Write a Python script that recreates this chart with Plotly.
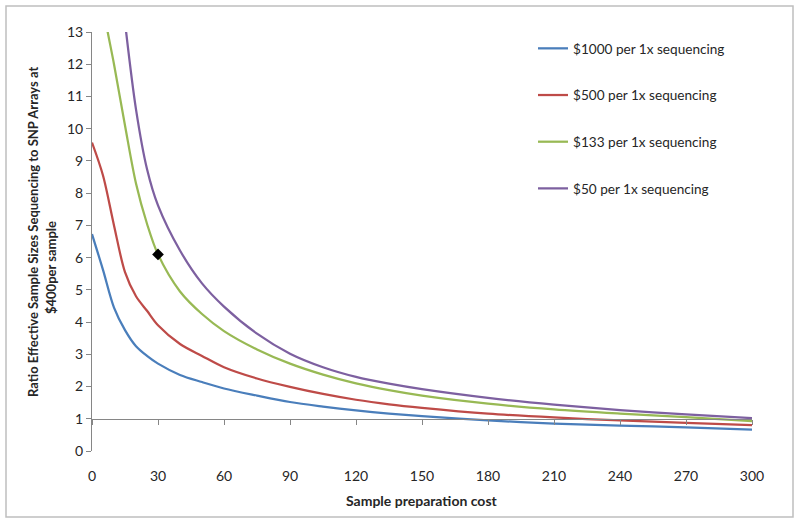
import plotly.graph_objects as go

# ---- data ----
x_cost = [0, 5, 10, 15, 20, 25, 30, 40, 50, 60, 75, 90, 105, 120, 135, 150, 180, 210, 240, 270, 300]

seq_1000 = [6.73, 5.62, 4.45, 3.75, 3.25, 2.95, 2.71, 2.36, 2.14, 1.94, 1.72, 1.52, 1.38, 1.26, 1.16, 1.08, 0.95, 0.85, 0.79, 0.73, 0.66]
seq_500 = [9.57, 8.55, 7.0, 5.55, 4.8, 4.35, 3.9, 3.32, 2.95, 2.6, 2.25, 1.99, 1.77, 1.59, 1.45, 1.34, 1.16, 1.04, 0.95, 0.87, 0.80]
seq_133 = [16.5, 13.8, 12.0, 10.1, 8.3, 7.05, 6.1, 4.95, 4.25, 3.72, 3.15, 2.71, 2.37, 2.10, 1.89, 1.72, 1.47, 1.29, 1.16, 1.05, 0.93]
seq_50 = [24.0, 20.0, 16.5, 13.3, 10.6, 8.75, 7.62, 6.22, 5.2, 4.48, 3.64, 3.02, 2.6, 2.30, 2.09, 1.92, 1.65, 1.44, 1.27, 1.14, 1.02]

series_names = ["$1000 per 1x sequencing", "$500 per 1x sequencing",
                "$133 per 1x sequencing", "$50 per 1x sequencing"]
series_values = [seq_1000, seq_500, seq_133, seq_50]
series_colors = ["#4A7EBB", "#BE4B48", "#98B954", "#7D60A0"]

marker_x = [30]
marker_y = [6.1]

x_ticks = [0, 30, 60, 90, 120, 150, 180, 210, 240, 270, 300]
y_ticks = list(range(0, 14))

FONT = "Lato, 'Open Sans', Arial, sans-serif"
TXT = "#262626"
AXC = "#868686"

fig = go.Figure()
for name, vals, col in zip(series_names, series_values, series_colors):
    fig.add_trace(go.Scatter(
        x=x_cost, y=vals, mode="lines", name=name, legendgroup=name,
        line=dict(color=col, width=2.25, shape="spline", smoothing=0.9),
        cliponaxis=True, hoverinfo="skip"))

fig.add_trace(go.Scatter(
    x=marker_x, y=marker_y, mode="markers", showlegend=False,
    xaxis="x2",
    marker=dict(symbol="diamond", size=9, color="black"), hoverinfo="skip"))

W, H = 800, 524
ml, mr, mt, mb = 92, 48, 32, 73
pw, ph = W - ml - mr, H - mt - mb

def px_to_paper_x(sx):
    return (sx - ml) / pw

def px_to_paper_y(sy):
    return (H - mb - sy) / ph

fig.update_layout(
    width=W, height=H,
    margin=dict(l=ml, r=mr, t=mt, b=mb, autoexpand=False),
    paper_bgcolor="white", plot_bgcolor="white",
    font=dict(family=FONT, size=13, color=TXT),
    showlegend=True,
    legend=dict(x=px_to_paper_x(533), y=px_to_paper_y(33), xanchor="left", yanchor="top",
                bgcolor="rgba(0,0,0,0)", font=dict(family=FONT, size=13.6, color=TXT),
                tracegroupgap=26, itemwidth=30),
    xaxis=dict(range=[0, 300], tickvals=x_ticks, ticktext=[str(v) for v in x_ticks],
               showgrid=False, zeroline=False, showline=False,
               ticks="outside", ticklen=12, tickcolor="rgba(0,0,0,0)",
               tickfont=dict(family=FONT, size=14, color=TXT)),
    xaxis2=dict(range=[0, 300], overlaying="x", anchor="free",
                position=1 / 13, tickvals=x_ticks, showticklabels=False,
                showgrid=False, zeroline=False, showline=True, linecolor=AXC, linewidth=1,
                ticks="outside", ticklen=5, tickcolor=AXC, side="bottom", matches="x"),
    yaxis=dict(range=[0, 13], tickvals=y_ticks, showgrid=False, zeroline=False,
               showline=True, linecolor=AXC, linewidth=1,
               ticks="outside", ticklen=5, tickcolor=AXC,
               tickfont=dict(family=FONT, size=14, color=TXT)),
    annotations=[
        dict(text="<b>Sample preparation cost</b>", xref="paper", yref="paper",
             x=px_to_paper_x(422), y=px_to_paper_y(500), showarrow=False,
             font=dict(family=FONT, size=14, color=TXT), xanchor="center", yanchor="middle"),
        dict(text="<b>Ratio Effective Sample Sizes Sequencing to SNP Arrays at</b>",
             xref="paper", yref="paper", x=px_to_paper_x(33), y=px_to_paper_y(232),
             textangle=-90, showarrow=False,
             font=dict(family=FONT, size=13, color=TXT), xanchor="center", yanchor="middle"),
        dict(text="<b>$400per sample</b>",
             xref="paper", yref="paper", x=px_to_paper_x(51), y=px_to_paper_y(268),
             textangle=-90, showarrow=False,
             font=dict(family=FONT, size=13, color=TXT), xanchor="center", yanchor="middle"),
    ],
    shapes=[
        dict(type="rect", xref="paper", yref="paper",
             x0=px_to_paper_x(6), x1=px_to_paper_x(793),
             y0=px_to_paper_y(517), y1=px_to_paper_y(6),
             line=dict(color="#BFBFBF", width=1.5), fillcolor="rgba(0,0,0,0)", layer="below"),
    ],
)

# remove the default 8px page margin so the figure fills the window exactly
fig.write_html("out.html", config={"displayModeBar": False},
               post_script="document.body.style.margin='0';")
